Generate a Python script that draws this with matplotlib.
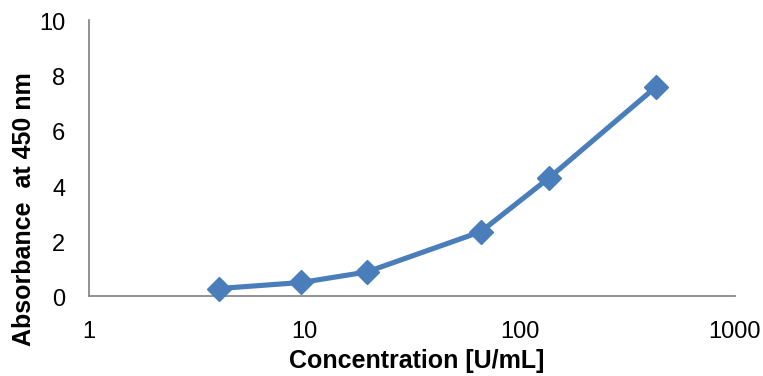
import matplotlib
matplotlib.use("Agg")
import matplotlib.pyplot as plt
from matplotlib.ticker import FixedLocator, FixedFormatter
from matplotlib.transforms import ScaledTranslation

conc = [4, 9.7, 19.5, 66, 137, 430]
absorb = [0.27, 0.49, 0.87, 2.33, 4.28, 7.58]
xticks = [1, 10, 100, 1000]
xtick_labels = ["1", "10", "100", "1000"]
yticks = [0, 2, 4, 6, 8, 10]

plt.rcParams['font.family'] = ['Liberation Sans', 'DejaVu Sans']

fig = plt.figure(figsize=(7.63, 3.76), dpi=100)
ax = fig.add_axes([89/763, 1-296/376, (735-89)/763, (296-20)/376])

color = '#4A7EBB'
ax.plot(conc, absorb, color=color, lw=3.7, marker='D', ms=12.5, mec=color, mfc=color,
        mew=1, clip_on=False, zorder=3)

ax.set_xscale('log')
ax.set_xlim(1, 1000)
ax.set_ylim(0, 10)
ax.xaxis.set_major_locator(FixedLocator(xticks))
ax.xaxis.set_major_formatter(FixedFormatter(xtick_labels))
ax.xaxis.set_minor_locator(FixedLocator([]))
ax.set_yticks(yticks)

for s in ['top', 'right']:
    ax.spines[s].set_visible(False)
for s in ['left', 'bottom']:
    ax.spines[s].set_color('#898989')
    ax.spines[s].set_linewidth(1.3)

ax.tick_params(axis='both', length=0, labelsize=17, colors='black')
ax.tick_params(axis='x', pad=18)
ax.tick_params(axis='y', pad=17)
shift = ScaledTranslation(0, -4/100, fig.dpi_scale_trans)
for lab in ax.get_yticklabels():
    lab.set_verticalalignment('center')
    lab.set_transform(lab.get_transform() + shift)

ax.set_xlabel('Concentration [U/mL]', fontsize=18, fontweight='bold')
ax.xaxis.set_label_coords((417-89)/646, (296-361)/276)
ax.xaxis.label.set_verticalalignment('center')
ax.set_ylabel('Absorbance  at 450 nm', fontsize=18, fontweight='bold')
ax.yaxis.set_label_coords((24-89)/646, (296-209)/276)
ax.yaxis.label.set_verticalalignment('center')

fig.savefig('out.png', dpi=100)
